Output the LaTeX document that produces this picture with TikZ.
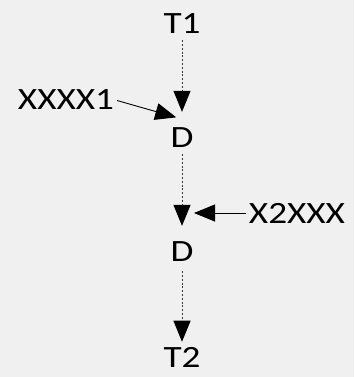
\documentclass[tikz,border=0pt]{standalone}
\usepackage{fontspec}
\setmainfont[FakeStretch=1.2]{Carlito}
\usetikzlibrary{arrows.meta}
\definecolor{bgcol}{HTML}{F0F0F0}
\definecolor{dotcol}{HTML}{3A3A3A}

\begin{document}
\begin{tikzpicture}[x=1pt,y=-1pt,
    lbl/.style={font=\fontsize{31}{33}\selectfont,inner sep=1pt},
    tip/.style={-{Triangle[length=21pt,width=17pt,color=black]}},
    flow/.style={tip,dotcol,line width=1pt,dash pattern=on 2pt off 1.8pt},
    feed/.style={tip,black,line width=0.9pt}]
  \fill[bgcol] (0,0) rectangle (354,377);
  \useasboundingbox (0,0) rectangle (354,377);

   \foreach \t/\x/\y/\n in
        {T1/182/24/T1,D/182/138/D1,D/182/252/D2,T2/182/357/T2,XXXX1/66/100/X1,X2XXX/297/213/X2}
           \node[lbl] (\n) at (\x,\y) {\t};

\coordinate (in1) at (182,119);
\coordinate (in2) at (182,213);

\draw[flow,shorten <=5pt,shorten >=15pt] (T1) -- (D1);
\draw[flow,shorten <=5pt,shorten >=15pt] (D1) -- (D2);
\draw[flow,shorten <=8pt,shorten >=4pt] (D2) -- (T2);

\draw[feed,shorten <=2pt,shorten >=6pt] (X1.east) -- (in1);
\draw[feed,shorten <=2pt,shorten >=12pt] (X2.west) -- (in2);
\end{tikzpicture}
\end{document}
